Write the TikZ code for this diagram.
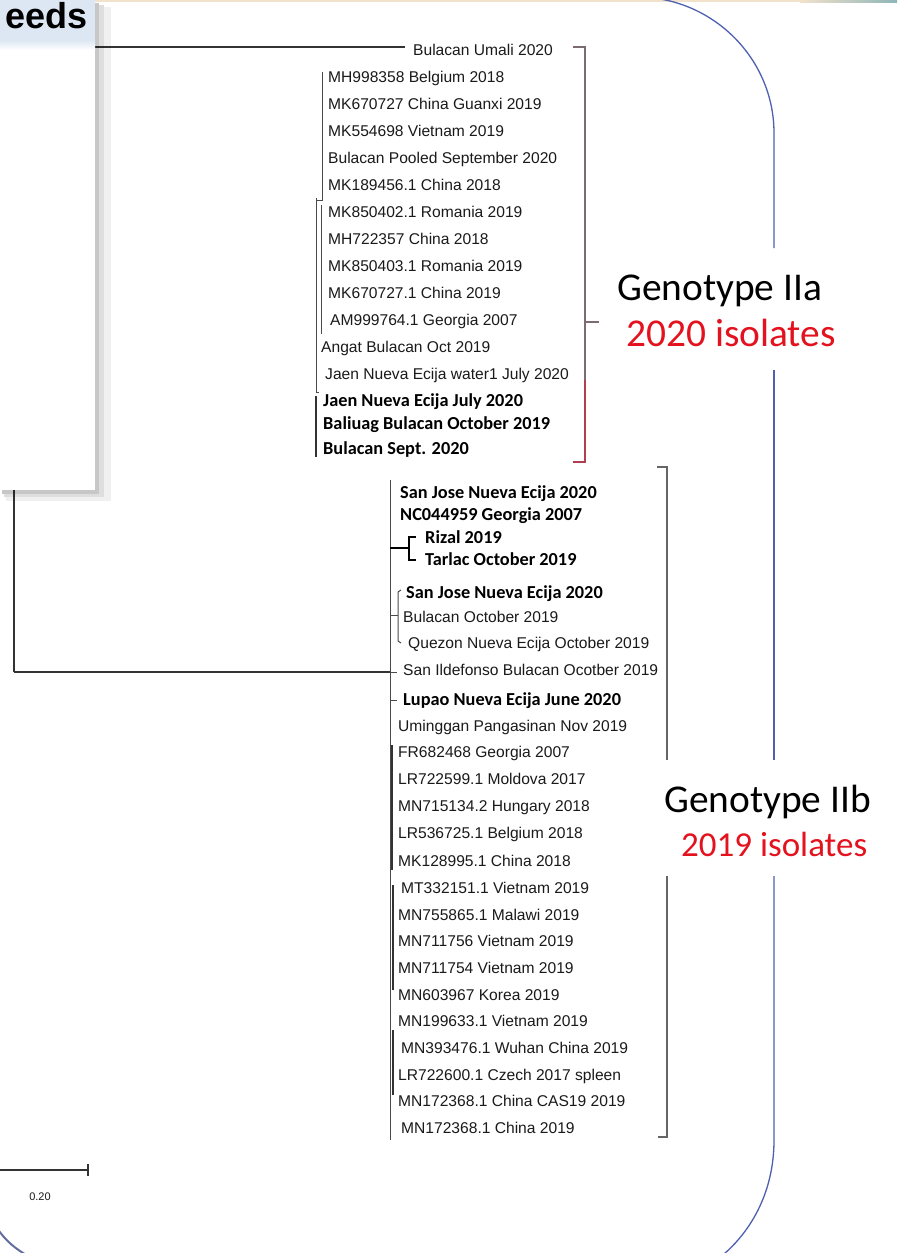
\documentclass[tikz,border=0pt]{standalone}
\usepackage{fontspec}
\setmainfont{Liberation Sans}
\newfontfamily\calfont{Carlito}
\definecolor{labtext}{HTML}{1A1A1A}
\definecolor{treecol}{HTML}{333333}
\definecolor{treegrey}{HTML}{4A4A4A}
\definecolor{blueline}{HTML}{5060B0}
\definecolor{brup}{HTML}{7D6A72}
\definecolor{brlow}{HTML}{B0404F}
\definecolor{brgrey}{HTML}{666666}
\definecolor{redtext}{HTML}{E3121E}
\definecolor{hdr}{HTML}{DCE7F3}
\definecolor{topstrip}{HTML}{F2E2CC}
\definecolor{topteal}{HTML}{8FB5B8}
\begin{document}
\begin{tikzpicture}[x=1pt,y=-1pt,
  lab/.style={anchor=base west,inner sep=0pt,text=labtext,font=\fontsize{15.6}{15.6}\selectfont},
  blab/.style={anchor=base west,inner sep=0pt,text=black,font=\calfont\bfseries\fontsize{18.3}{18.3}\selectfont},
  treeline/.style={draw=treecol,line width=1.2pt},
  thinline/.style={draw=treegrey,line width=1pt},
  br/.style={line width=1.2pt},
  geno/.style={anchor=base west,inner sep=0pt,font=\calfont\fontsize{39.4}{39.4}\selectfont},
  outline/.style={draw=blueline,line width=1.3pt}]
\useasboundingbox (0,0) rectangle (897,1253);
\fill[white] (0,0) rectangle (897,1253);
% top strip
\fill[topstrip] (95,0) rectangle (800,2);
\shade[left color=topstrip,right color=topteal] (800,0) rectangle (897,2);

% root lines
\coordinate (root) at (14,47);
\coordinate (rootb) at (14,672);
\coordinate (umalitip) at (405,47);
\coordinate (lowjoin) at (390,672);
\draw[treeline] (rootb) -- (root) -- (umalitip);
\draw[treeline] (rootb) -- (lowjoin);

% upper cluster labels
\node[lab] (u0) at (413,55) {Bulacan Umali 2020};
\node[lab] (u1) at (328,82) {MH998358 Belgium 2018};
\node[lab] (u2) at (328,109) {MK670727 China Guanxi 2019};
\node[lab] (u3) at (328,136) {MK554698 Vietnam 2019};
\node[lab] (u4) at (328,163) {Bulacan Pooled September 2020};
\node[lab] (u5) at (328,190) {MK189456.1 China 2018};
\node[lab] (u6) at (328,217) {MK850402.1 Romania 2019};
\node[lab] (u7) at (328,244) {MH722357 China 2018};
\node[lab] (u8) at (328,271) {MK850403.1 Romania 2019};
\node[lab] (u9) at (328,298) {MK670727.1 China 2019};
\node[lab] (u10) at (330,325) {AM999764.1 Georgia 2007};
\node[lab] (u11) at (321,352) {Angat Bulacan Oct 2019};
\node[lab] (u12) at (325,379) {Jaen Nueva Ecija water1 July 2020};
\node[blab] (u13) at (323,406) {Jaen Nueva Ecija July 2020};
\node[blab] (u14) at (323,429) {Baliuag Bulacan October 2019};
\node[blab] (u15) at (323,454) {Bulacan Sept. 2020};

% upper cluster tree
\draw[thinline] (322,72) -- (322,200) -- (316,200);
\draw[thinline] (316,198) -- (316,392) -- (319,392);
\draw[thinline] (321,205) -- (321,334);
\draw[treeline] (316,396) -- (316,457);

% lower cluster labels
\node[blab] (l0) at (400,498) {San Jose Nueva Ecija 2020};
\node[blab] (l1) at (400,520) {NC044959 Georgia 2007};
\node[blab] (l2) at (425,543) {Rizal 2019};
\node[blab] (l3) at (425,565) {Tarlac October 2019};
\node[blab] (l4) at (406,598) {San Jose Nueva Ecija 2020};
\node[lab] (l5) at (403,622) {Bulacan October 2019};
\node[lab] (l6) at (408,648) {Quezon Nueva Ecija October 2019};
\node[lab] (l7) at (403,675) {San Ildefonso Bulacan Ocotber 2019};
\node[blab] (l8) at (403,705) {Lupao Nueva Ecija June 2020};
\node[lab] (l9) at (398,731) {Uminggan Pangasinan Nov 2019};
\node[lab] (l10) at (398,757) {FR682468 Georgia 2007};
\node[lab] (l11) at (398,784) {LR722599.1 Moldova 2017};
\node[lab] (l12) at (398,811) {MN715134.2 Hungary 2018};
\node[lab] (l13) at (398,838) {LR536725.1 Belgium 2018};
\node[lab] (l14) at (398,866) {MK128995.1 China 2018};
\node[lab] (l15) at (401,893) {MT332151.1 Vietnam 2019};
\node[lab] (l16) at (398,920) {MN755865.1 Malawi 2019};
\node[lab] (l17) at (398,946) {MN711756 Vietnam 2019};
\node[lab] (l18) at (398,973) {MN711754 Vietnam 2019};
\node[lab] (l19) at (398,1000) {MN603967 Korea 2019};
\node[lab] (l20) at (398,1026) {MN199633.1 Vietnam 2019};
\node[lab] (l21) at (401,1053) {MN393476.1 Wuhan China 2019};
\node[lab] (l22) at (398,1080) {LR722600.1 Czech 2017 spleen};
\node[lab] (l23) at (398,1106) {MN172368.1 China CAS19 2019};
\node[lab] (l24) at (401,1133) {MN172368.1 China 2019};

% lower cluster tree
\draw[thinline] (390,480) -- (390,1140);
\draw[treeline,line width=1.5pt] (392,745) -- (392,870);
\draw[treeline,line width=1.5pt] (393,885) -- (393,990);
\draw[treeline,line width=1.5pt] (393,1030) -- (393,1095);
\draw[draw=black,line width=1.8pt] (390,548) -- (409,548);
\draw[draw=black,line width=1.6pt] (416,537) -- (409,537) -- (409,560) -- (416,560);
\draw[thinline] (390,615) -- (398,615);
\draw[thinline] (401,590) -- (398,592) -- (398,641) -- (401,643);
\draw[thinline] (390,672) -- (397,672);
\draw[thinline] (390,700) -- (397,700);

% clade brackets
\draw[br,draw=brup] (573,47) -- (585,47) -- (585,380);
\draw[br,draw=brlow] (585,380) -- (585,462) -- (573,462);
\draw[br,draw=brup] (585,322) -- (599,322);
\draw[br,draw=brgrey] (657,467) -- (667,467) -- (667,760);
\draw[br,draw=brgrey] (667,876) -- (667,1137) -- (658,1137);

% blue outline
\draw[outline] (637,-3) .. controls (712,-3) and (774,58) .. (774,133) -- (774,248);
\draw[outline] (774,370) -- (774,760);
\draw[outline] (774,876) -- (774,1140) .. controls (774,1212) and (730,1262) .. (680,1280);
\draw[draw=blueline!60!gray,line width=2pt] (-3,1228) .. controls (5,1240) and (15,1249) .. (30,1257);

% genotype texts
\node[geno,text=black] (ga) at (617,300) {Genotype IIa};
\node[geno,text=redtext] (gai) at (626,346) {2020 isolates};
\node[geno,text=black] (gb) at (664,812) {Genotype IIb};
\node[geno,text=redtext,font=\calfont\fontsize{35}{35}\selectfont] (gbi) at (681,856) {2019 isolates};

% scale bar
\coordinate (sb0) at (0,1170);
\coordinate (sb1) at (88,1170);
\draw[treeline] (sb0) -- (sb1);
\draw[treeline] (88,1164) -- (88,1176);
\node[inner sep=0pt,text=labtext,font=\fontsize{11}{11}\selectfont] (sblab) at (40,1197) {0.20};

% overlay panel with shadow
\fill[black,opacity=0.22] (95,3) rectangle (99,494);
\fill[black,opacity=0.13] (99,5) rectangle (104,497);
\fill[black,opacity=0.06] (104,7) rectangle (111,501);
\fill[black,opacity=0.22] (2,490) rectangle (95,494);
\fill[black,opacity=0.13] (4,494) rectangle (99,497);
\fill[black,opacity=0.06] (6,497) rectangle (104,501);
\fill[white] (0,0) rectangle (95,490);
\fill[hdr] (0,0) rectangle (95,40);
\shade[top color=hdr,bottom color=white] (0,40) rectangle (95,50);
\node[anchor=base east,inner sep=0pt,font=\bfseries\fontsize{36}{36}\selectfont] (title) at (88,28) {eeds};
\end{tikzpicture}
\end{document}
